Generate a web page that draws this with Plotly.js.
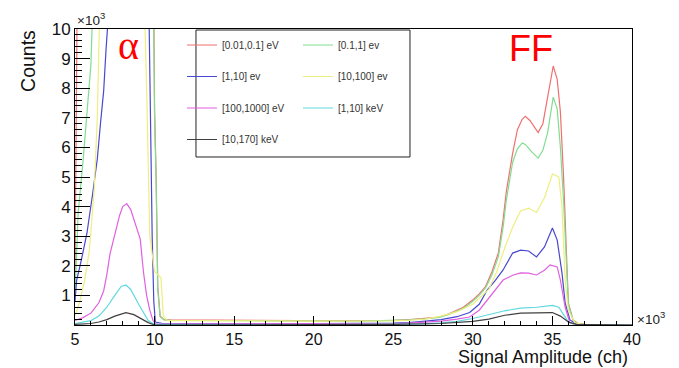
<!DOCTYPE html>
<html>
<head>
<meta charset="utf-8">
<script src="https://cdn.plot.ly/plotly-3.0.1.min.js"></script>
<style>html,body{margin:0;padding:0;background:#fff;}#chart{width:679px;height:368px;}</style>
</head>
<body>
<div id="chart"></div>
<script>
// Values in thousands (x: channel ×10^3, y: counts ×10^3)
const seriesNames = ["[0.01,0.1] eV", "[0.1,1] ev", "[1,10] ev", "[10,100] ev", "[100,1000] eV", "[1,10] keV", "[10,170] keV"];
const seriesColors = ["#f07070", "#80dd90", "#4848d0", "#eeee80", "#e060e0", "#60d8e0", "#404040"];
const seriesLegend = ["legend", "legend2", "legend", "legend2", "legend", "legend2", "legend"];

const red = [[5.0,1.5],[5.05,6],[5.15,12],[5.3,16],[5.6,19],[6.0,22],[6.5,26],[7.0,29],[7.5,31],[8.0,32],[8.3,32],[8.6,31],[9.0,28],[9.5,22],[9.9,14],[10.0,7.3],[10.1,5.0],[10.2,1.3],[10.35,0.3],[10.6,0.18],[11,0.17],[12,0.17],[13,0.16],[14,0.16],[15,0.16],[16,0.15],[17,0.15],[18,0.15],[19,0.15],[20,0.14],[21,0.14],[22,0.14],[23,0.14],[24,0.15],[25,0.16],[26,0.18],[27,0.22],[27.9,0.27],[28.5,0.38],[29.4,0.6],[30.0,0.85],[30.4,1.05],[30.8,1.3],[31.2,1.8],[31.6,2.43],[31.9,3.55],[32.1,4.5],[32.5,5.8],[32.8,6.6],[33.1,6.95],[33.3,7.05],[33.6,6.9],[34.1,6.5],[34.4,6.8],[34.7,7.7],[35.05,8.75],[35.3,8.3],[35.5,7.2],[35.7,5.0],[35.9,2.4],[36.0,0.75],[36.3,0.17],[36.6,0.06],[37,0.02],[38,0.01],[40,0]];
const green = [[5.0,1.0],[5.1,2.5],[5.2,3.8],[5.5,5.5],[5.8,7.5],[6.0,8.8],[6.1,10.5],[6.3,15],[6.8,20],[7.5,25],[8.2,27],[9.0,24],[9.5,19],[9.9,13],[10.0,7.0],[10.1,4.8],[10.2,1.2],[10.35,0.28],[10.6,0.17],[11,0.16],[13,0.15],[15,0.15],[17,0.14],[19,0.14],[21,0.13],[23,0.13],[25,0.15],[26,0.17],[27,0.21],[27.9,0.26],[28.5,0.36],[29.4,0.56],[30.0,0.8],[30.4,1.0],[30.8,1.25],[31.2,1.7],[31.6,2.3],[31.9,3.3],[32.1,4.2],[32.5,5.5],[32.8,5.95],[33.1,6.15],[33.3,6.1],[33.7,5.85],[34.1,5.64],[34.4,5.9],[34.7,6.5],[35.05,7.7],[35.3,7.3],[35.5,6.0],[35.7,4.2],[35.9,2.0],[36.0,0.7],[36.3,0.15],[36.6,0.04],[37,0.01],[40,0]];
const blue = [[5.0,0.8],[5.1,1.5],[5.4,2.2],[5.75,3.1],[6.1,4.4],[6.4,5.6],[6.6,6.8],[6.8,7.9],[6.95,9.3],[7.05,10.5],[7.3,14],[7.8,18],[8.3,20],[8.9,18],[9.5,14],[9.65,10.5],[9.75,6],[9.85,3],[9.95,0.8],[10.05,0.1],[10.5,0.05],[12,0.04],[15,0.04],[18,0.04],[21,0.04],[23,0.05],[25,0.06],[26,0.08],[27,0.12],[28,0.18],[29,0.28],[29.8,0.42],[30.4,0.7],[30.9,1.18],[31.4,1.5],[31.9,1.86],[32.5,2.43],[33.0,2.53],[33.5,2.5],[34.0,2.3],[34.5,2.64],[35.0,3.28],[35.3,2.87],[35.6,1.76],[35.8,0.74],[36.1,0.17],[36.5,0.04],[37,0.01],[40,0]];
const yellow = [[5.0,0.3],[5.3,0.8],[5.6,1.5],[5.9,2.5],[6.2,4.5],[6.4,7],[6.55,10.5],[6.8,18],[7.5,26],[8.2,30],[8.9,27],[9.2,18],[9.3,12],[9.5,8],[9.7,3],[10.0,1.8],[10.4,1.6],[10.55,0.3],[10.8,0.15],[12,0.15],[14,0.14],[16,0.14],[18,0.13],[20,0.13],[22,0.13],[24,0.13],[25,0.14],[26,0.16],[27,0.2],[28,0.3],[29,0.45],[30,0.7],[31,1.2],[31.5,1.8],[32,2.6],[32.5,3.3],[33,3.85],[33.5,3.95],[34,3.8],[34.5,4.3],[35,5.1],[35.4,5.0],[35.6,4.0],[35.8,1.5],[36.0,0.5],[36.4,0.08],[37,0.01],[40,0]];
const magenta = [[5.0,0.15],[5.5,0.25],[6.0,0.4],[6.5,0.75],[6.8,1.15],[7.0,1.7],[7.2,2.4],[7.5,3.1],[7.8,3.7],[8.0,4.0],[8.25,4.1],[8.5,3.9],[8.8,3.4],[9.1,2.9],[9.3,1.8],[9.5,1.0],[9.7,0.5],[9.9,0.15],[10.1,0.03],[11,0.03],[15,0.03],[20,0.03],[23,0.04],[25,0.05],[26,0.06],[27,0.09],[28,0.13],[29,0.2],[29.8,0.27],[30.4,0.5],[30.9,0.85],[31.4,1.2],[31.9,1.52],[32.5,1.68],[33.0,1.76],[33.5,1.75],[34.0,1.69],[34.5,1.85],[34.85,2.03],[35.3,1.96],[35.5,1.52],[35.8,0.6],[36.1,0.07],[36.5,0.02],[40,0]];
const cyan = [[5.0,0.05],[6.0,0.15],[6.5,0.3],[7.0,0.6],[7.5,1.0],[7.9,1.3],[8.2,1.35],[8.5,1.2],[9.0,0.7],[9.3,0.4],[9.6,0.15],[10.0,0.02],[12,0.01],[20,0.01],[25,0.02],[27,0.04],[28,0.07],[29,0.12],[30,0.22],[31,0.35],[32,0.48],[33,0.57],[34,0.6],[35,0.66],[35.4,0.6],[35.7,0.35],[36,0.1],[36.4,0.02],[40,0]];
const gray = [[5.0,0.02],[6.0,0.05],[6.5,0.1],[7.0,0.18],[7.5,0.3],[8.2,0.42],[8.7,0.35],[9.2,0.2],[9.6,0.08],[10.0,0.0],[20,0.0],[25,0.02],[28,0.05],[30,0.12],[31,0.2],[32,0.33],[33,0.4],[34,0.42],[35,0.42],[35.5,0.3],[36,0.1],[36.5,0.02],[40,0]];

const allSeries = [red, green, blue, yellow, magenta, cyan, gray];
const xTickVals = [5, 10, 15, 20, 25, 30, 35, 40];
const yTickVals = [0, 1, 2, 3, 4, 5, 6, 7, 8, 9, 10];
const yTickText = ["", "1", "2", "3", "4", "5", "6", "7", "8", "9", "10"];

const traces = allSeries.map((s, i) => ({
  type: "scatter",
  mode: "lines",
  name: seriesNames[i],
  x: s.map(p => p[0]),
  y: s.map(p => p[1]),
  line: { color: seriesColors[i], width: 1.2 },
  legend: seriesLegend[i],
  legendgroup: "g" + i,
  hoverinfo: "skip"
}));

const FONT = "Liberation Sans, Arial, sans-serif";
const legendCommon = {
  yanchor: "top", xanchor: "left",
  bgcolor: "rgba(0,0,0,0)", borderwidth: 0,
  font: { family: FONT, size: 10, color: "#333" },
  tracegroupgap: 12.5, itemwidth: 30, traceorder: "grouped"
};

const layout = {
  width: 679, height: 368,
  margin: { l: 75, r: 47, t: 29, b: 43 },
  paper_bgcolor: "#fff", plot_bgcolor: "#fff",
  font: { family: FONT, color: "#111" },
  showlegend: true,
  legend: Object.assign({ x: 0.1921, y: 0.995 }, legendCommon),
  legend2: Object.assign({ x: 0.4004, y: 0.995 }, legendCommon),
  xaxis: {
    range: [5, 40], tickmode: "array", tickvals: xTickVals,
    ticks: "inside", ticklen: 9, tickcolor: "#000", tickwidth: 1,
    minor: { tickmode: "linear", tick0: 5, dtick: 1, ticks: "inside", ticklen: 4, tickcolor: "#000", showgrid: false },
    showline: true, linecolor: "#000", linewidth: 1, mirror: true,
    showgrid: false, zeroline: false,
    tickfont: { family: FONT, size: 16, color: "#111" }
  },
  yaxis: {
    range: [0, 10], tickmode: "array", tickvals: yTickVals, ticktext: yTickText,
    ticks: "inside", ticklen: 15, tickcolor: "#000", tickwidth: 1,
    minor: { tickmode: "linear", tick0: 0, dtick: 0.2, ticks: "inside", ticklen: 7, tickcolor: "#000", showgrid: false },
    showline: true, linecolor: "#000", linewidth: 1, mirror: true,
    showgrid: false, zeroline: false,
    tickfont: { family: FONT, size: 17, color: "#111" }
  },
  shapes: [{
    type: "rect", xref: "paper", yref: "paper", layer: "above",
    x0: 0.2172, x1: 0.6014, y0: 0.5676, y1: 0.9966,
    fillcolor: "#fff", line: { color: "#222", width: 1 }
  }],
  annotations: [
    { text: "Counts", xref: "paper", yref: "paper", x: -0.0844, y: 0.892, xanchor: "center", yanchor: "middle",
      textangle: -90, showarrow: false, font: { family: FONT, size: 19.5, color: "#111" } },
    { text: "Signal Amplitude (ch)", xref: "paper", yref: "paper", x: 0.9964, y: -0.1081, xanchor: "right", yanchor: "middle",
      showarrow: false, font: { family: FONT, size: 18, color: "#111" } },
    { text: "×10<sup>3</sup>", xref: "paper", yref: "paper", x: 0.0, y: 1.035, xanchor: "left", yanchor: "middle",
      showarrow: false, font: { family: FONT, size: 13.5, color: "#222" } },
    { text: "×10<sup>3</sup>", xref: "paper", yref: "paper", x: 1.005, y: 0.025, xanchor: "left", yanchor: "middle",
      showarrow: false, font: { family: FONT, size: 13.5, color: "#222" } },
    { text: "α", xref: "paper", yref: "paper", x: 0.0952, y: 0.944, xanchor: "center", yanchor: "middle",
      showarrow: false, font: { family: "Liberation Serif, Times New Roman, serif", size: 40, color: "#ff0000" } },
    { text: "FF", xref: "paper", yref: "paper", x: 0.8187, y: 0.9358, xanchor: "center", yanchor: "middle",
      showarrow: false, font: { family: FONT, size: 36, color: "#ff0000" } }
  ]
};

Plotly.newPlot("chart", traces, layout, { displayModeBar: false, staticPlot: true });
</script>
</body>
</html>
